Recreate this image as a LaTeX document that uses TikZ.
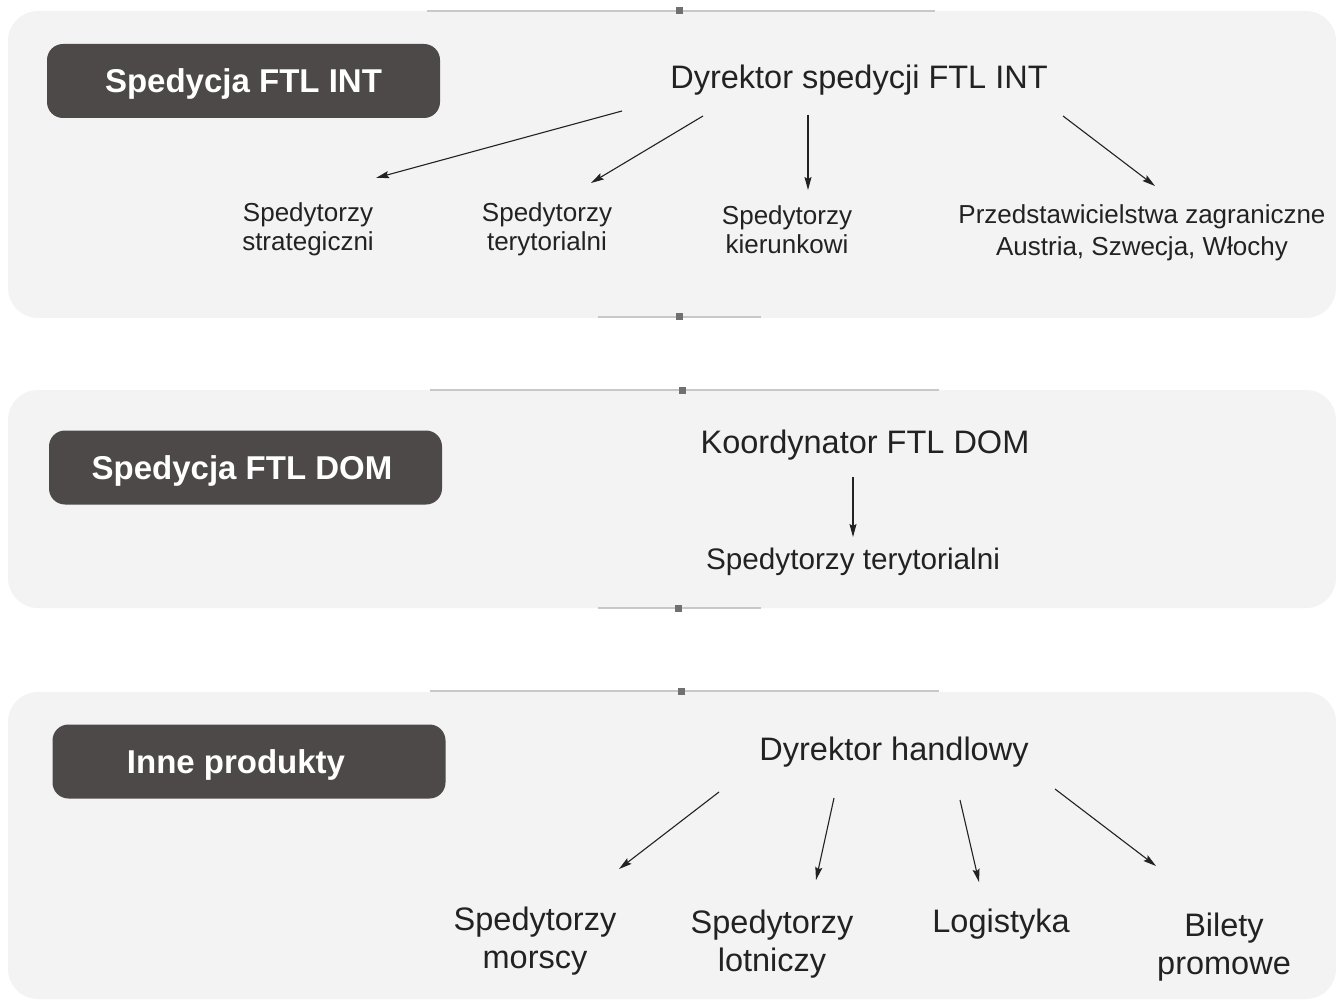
\documentclass[tikz,border=0pt]{standalone}
\usepackage{fontspec}
\setmainfont{Liberation Sans}
\usetikzlibrary{arrows.meta}
\definecolor{panelbg}{HTML}{F3F3F3}
\definecolor{tagbg}{HTML}{4D4948}
\definecolor{rulegray}{HTML}{C8C8C8}
\definecolor{knob}{HTML}{707070}
\definecolor{ink}{HTML}{222222}
\tikzset{
  panel/.style={fill=panelbg, draw=none, rounded corners=30pt, inner sep=0pt, anchor=center},
  tag/.style={fill=tagbg, draw=none, rounded corners=16pt, text=white,
    font=\fontsize{33}{38}\selectfont\bfseries, text height=30pt, text depth=7pt,
    minimum width=393pt, minimum height=74pt, inner sep=0pt},
  head/.style={text=ink, font=\fontsize{32.5}{36}\selectfont, inner sep=0pt},
  leafsmall/.style={text=ink, font=\fontsize{26}{29}\selectfont, align=center, inner sep=0pt},
  leafbig/.style={text=ink, font=\fontsize{32.5}{38}\selectfont, align=center, inner sep=0pt},
  rulerline/.style={draw=rulegray, line width=2pt},
  knobsq/.style={fill=knob, draw=none, minimum size=7pt, inner sep=0pt},
  arr/.style={draw=ink, line width=1.1pt, -{Stealth[length=13pt, width=7pt, inset=2pt]}},
}
\begin{document}
\begin{tikzpicture}[x=1pt, y=-1pt]
\useasboundingbox[fill=white] (0,0) rectangle (1336,1000);

% background panels
\node[panel, minimum width=1328pt, minimum height=307pt] (p1) at (672,164.5) {};
\node[panel, minimum width=1328pt, minimum height=218pt] (p2) at (672,499) {};
\node[panel, minimum width=1328pt, minimum height=307pt] (p3) at (672,845.5) {};

% rulers with knobs on the panel edges
\coordinate (r1a) at (427,11);  \coordinate (r1b) at (935,11);
\draw[rulerline] (r1a) -- (r1b);
\node[knobsq] (k1) at (679,11) {};
\coordinate (r2a) at (598,317); \coordinate (r2b) at (761,317);
\draw[rulerline] (r2a) -- (r2b);
\node[knobsq] (k2) at (679,317) {};
\coordinate (r3a) at (430,390); \coordinate (r3b) at (939,390);
\draw[rulerline] (r3a) -- (r3b);
\node[knobsq] (k3) at (682,390) {};
\coordinate (r4a) at (598,608); \coordinate (r4b) at (761,608);
\draw[rulerline] (r4a) -- (r4b);
\node[knobsq] (k4) at (678,608) {};
\coordinate (r5a) at (430,691); \coordinate (r5b) at (939,691);
\draw[rulerline] (r5a) -- (r5b);
\node[knobsq] (k5) at (681,691) {};

% section tags
\node[tag] (t1) at (243.5,81) {Spedycja FTL INT};
\node[tag] (t2) at (245.5,467.5) {\hbox{Spedycja FTL DOM\kern7pt}};
\node[tag] (t3) at (249,761.5) {\hbox{Inne produkty\kern26pt}};

% section 1
\node[head] (d1) at (859,80) {Dyrektor spedycji FTL INT};
\node[leafsmall] (c11) at (308,229) {Spedytorzy\\strategiczni};
\node[leafsmall] (c12) at (547,229) {Spedytorzy\\terytorialni};
\node[leafsmall] (c13) at (787,230) {Spedytorzy\\kierunkowi};
\node[leafsmall, font=\fontsize{26}{32}\selectfont] (c14) at (1142,233) {Przedstawicielstwa zagraniczne\\Austria, Szwecja, Włochy};
\draw[arr] ([shift={(-237,31)}]d1.center) -- ([shift={(68,-51)}]c11.center);
\draw[arr] ([shift={(-156,36)}]d1.center) -- ([shift={(44,-46)}]c12.center);
\draw[arr] ([shift={(-51,35)}]d1.center) -- ([shift={(21,-40)}]c13.center);
\draw[arr] ([shift={(204,36)}]d1.center) -- ([shift={(13,-47)}]c14.center);

% section 2
\node[head] (d2) at (865,445) {Koordynator FTL DOM};
\node[leafsmall, font=\fontsize{29.7}{34}\selectfont] (c21) at (853,562) {Spedytorzy terytorialni};
\draw[arr] ([shift={(-12,32)}]d2.center) -- ([shift={(0,-25)}]c21.center);

% section 3
\node[head] (d3) at (894,752) {Dyrektor handlowy};
\node[leafbig] (c31) at (535,941) {Spedytorzy\\morscy};
\node[leafbig] (c32) at (772,944.5) {Spedytorzy\\lotniczy};
\node[leafbig] (c33) at (1001,924) {Logistyka};
\node[leafbig] (c34) at (1224,947) {Bilety\\promowe};
\draw[arr] ([shift={(-175,40)}]d3.center) -- ([shift={(84,-72)}]c31.center);
\draw[arr] ([shift={(-60,46)}]d3.center) -- ([shift={(44,-64.5)}]c32.center);
\draw[arr] ([shift={(66,48)}]d3.center) -- ([shift={(-22,-42)}]c33.center);
\draw[arr] ([shift={(161,37)}]d3.center) -- ([shift={(-68,-81)}]c34.center);
\end{tikzpicture}
\end{document}
